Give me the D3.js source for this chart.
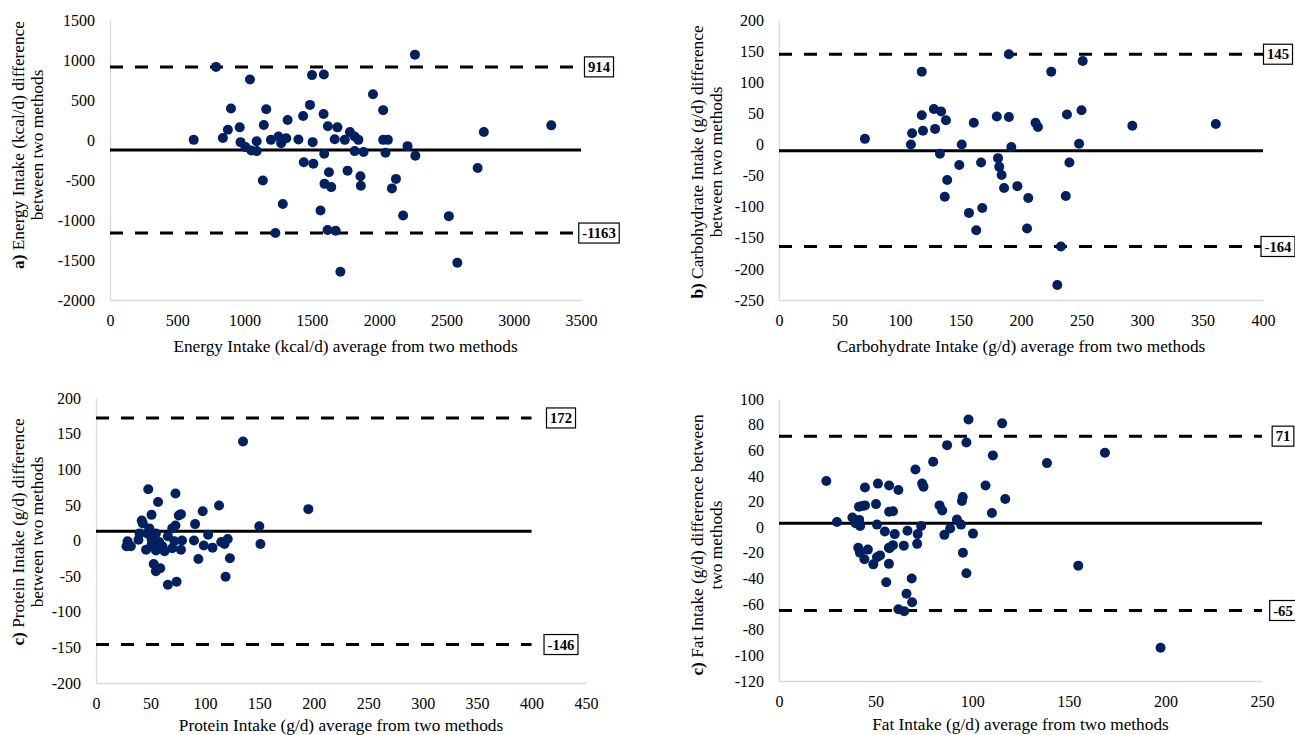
<!DOCTYPE html>
<html>
<head>
<meta charset="utf-8">
<script src="https://cdn.jsdelivr.net/npm/d3@7"></script>
<style>
body{margin:0;background:#fff;}
text{font-family:"Liberation Serif","Times New Roman",serif;fill:#000;}
</style>
</head>
<body>
<svg id="chart" width="1295" height="735"></svg>
<script>
// a) energy
var energyAvg = [622,788,1040,839,876,899,964,970,1007,1050,1090,1090,1143,1161,1136,1196,1252,1272,1310,1320,1284,1229,1400,1435,1486,1501,1589,1506,1440,1511,1587,1592,1619,1670,1690,1627,1594,1644,1564,1617,1677,1712,1745,1765,1783,1818,1846,1818,1884,1861,1864,1954,2030,2030,2065,2047,2125,2095,2178,2211,2266,2269,2518,2581,2732,2778,3279];
var energyDiff = [2,914,757,26,129,394,158,-27,-89,-131,-139,-15,187,385,-506,2,43,-40,22,249,-799,-1163,6,299,439,811,819,-27,-279,-296,324,-172,171,10,158,-403,-548,-589,-882,-1126,-1134,-1646,2,-383,101,43,2,-139,-151,-453,-572,571,373,2,2,-160,-486,-605,-944,-77,1067,-197,-952,-1534,-349,101,183];
var energyLimits = [914, -1163];
var energyBias = -124;
var energyXTicks = [0,500,1000,1500,2000,2500,3000,3500];
var energyYTicks = [-2000,-1500,-1000,-500,0,500,1000,1500];

// b) carbohydrate
var carbAvg = [71,109,110,118,118,119,128,134,129,138,133,139,137,151,149,161,157,163,167,168,180,190,190,192,181,182,184,186,197,206,205,212,214,225,233,230,237,238,240,248,250,251,292,361];
var carbDiff = [9,0,18,117,47,22,57,53,25,39,-15,-57,-84,0,-33,35,-110,-138,-29,-102,45,145,44,-4,-22,-36,-49,-70,-67,-86,-135,35,28,117,-164,-226,-83,48,-29,1,55,134,30,33];
var carbLimits = [145, -164];
var carbBias = -10;
var carbXTicks = [0,50,100,150,200,250,300,350,400];
var carbYTicks = [-250,-200,-150,-100,-50,0,50,100,150,200];

// c) protein
var proteinAvg = [135,195,150,151,48,73,57,113,98,51,76,78,42,43,91,73,70,49,40,47,55,66,103,39,51,58,29,28,32,46,55,63,70,78,79,72,90,99,107,115,118,121,123,94,119,53,59,55,66,74,61,51];
var proteinDiff = [139,44,20,-5,72,66,54,49,41,36,35,37,28,24,23,21,17,17,10,10,10,6,8,1,2,-2,-1,-8,-8,-13,-14,-15,-11,-13,0,-1,0,-7,-10,-2,-5,2,-25,-26,-51,-33,-39,-43,-62,-58,-8,-6];
var proteinLimits = [172, -146];
var proteinBias = 13;
var proteinXTicks = [0,50,100,150,200,250,300,350,400,450];
var proteinYTicks = [-200,-150,-100,-50,0,50,100,150,200];

// d) fat
var fatAvg = [24.5,30,38,39.6,41.5,42,41.4,44.5,44.5,50.2,51.2,50.7,57,61.8,57,59,54.8,59.9,66.5,71.8,73.6,71.5,70.6,74.1,74.8,79.8,87,83.1,84.5,85.6,88.6,92.1,94.2,95.1,94.7,98.1,97,95.2,97,100.4,106.9,110.7,110.2,115.5,117.1,138.7,154.9,168.7,197.5,41,41.9,46,44.2,48.8,50.7,52.3,56.9,59,56.9,57.2,64.6,55.5,68.7,66,68.9,61.8,64.8,43];
var fatDiff = [36,4,7.5,3,5.7,1,16,17,31,18,34,2,32.5,29,12,12.4,-3.3,-5.4,-2.8,-5.4,1,-13,45,34,31.5,51,64,17,13,-6,-1,6,2,23.5,20.4,84,66,-20,-36,-5,32.5,56,11,81,22,50,-30,58,-94,-16,-20,-17.5,-25,-29,-23.5,-22,-16,-14,-28.6,-16.5,-14.4,-43,-40,-52,-58.6,-64,-65.5,16.5];
var fatLimits = [71, -65];
var fatBias = 3;
var fatXTicks = [0,50,100,150,200,250];
var fatYTicks = [-120,-100,-80,-60,-40,-20,0,20,40,60,80,100];

var dotColor = "#002060";
var svg = d3.select("#chart");

var panels = [
  {avg: energyAvg, diff: energyDiff, limits: energyLimits, bias: energyBias, xTicks: energyXTicks, yTicks: energyYTicks,
   left: 110, right: 581, top: 20, bottom: 300, lineEnd: 3500, labelX: 599,
   tag: "a)", yTitle1: " Energy Intake (kcal/d) difference", yTitle2: "between two methods", tx1: 18, tx2: 37, ty: 145,
   xTitle: "Energy Intake (kcal/d) average from two methods", xTitleY: 352},
  {avg: carbAvg, diff: carbDiff, limits: carbLimits, bias: carbBias, xTicks: carbXTicks, yTicks: carbYTicks,
   left: 779, right: 1263, top: 20, bottom: 300, lineEnd: 400, labelX: 1278,
   tag: "b)", yTitle1: " Carbohydrate Intake (g/d) difference", yTitle2: "between two methods", tx1: 697, tx2: 716, ty: 162,
   xTitle: "Carbohydrate Intake (g/d) average from two methods", xTitleY: 352},
  {avg: proteinAvg, diff: proteinDiff, limits: proteinLimits, bias: proteinBias, xTicks: proteinXTicks, yTicks: proteinYTicks,
   left: 96, right: 586, top: 398, bottom: 683, lineEnd: 400, labelX: 561,
   tag: "c)", yTitle1: " Protein Intake (g/d) difference", yTitle2: "between two methods", tx1: 18, tx2: 37, ty: 532,
   xTitle: "Protein Intake (g/d) average from two methods", xTitleY: 731},
  {avg: fatAvg, diff: fatDiff, limits: fatLimits, bias: fatBias, xTicks: fatXTicks, yTicks: fatYTicks,
   left: 779, right: 1262, top: 399, bottom: 681, lineEnd: 250, labelX: 1283,
   tag: "c)", yTitle1: " Fat Intake (g/d) difference between", yTitle2: "two methods", tx1: 697, tx2: 716, ty: 545,
   xTitle: "Fat Intake (g/d) average from two methods", xTitleY: 730}
];

panels.forEach(drawPanel);

function drawPanel(p) {
  var x = d3.scaleLinear().domain([p.xTicks[0], p.xTicks[p.xTicks.length - 1]]).range([p.left, p.right]);
  var y = d3.scaleLinear().domain([p.yTicks[0], p.yTicks[p.yTicks.length - 1]]).range([p.bottom, p.top]);
  var g = svg.append("g");

  var xa = g.append("g")
    .attr("transform", "translate(0," + p.bottom + ")")
    .call(d3.axisBottom(x).tickValues(p.xTicks).tickSize(0).tickPadding(15).tickFormat(d => String(d)));
  var ya = g.append("g")
    .attr("transform", "translate(" + p.left + ",0)")
    .call(d3.axisLeft(y).tickValues(p.yTicks).tickSize(0).tickPadding(15).tickFormat(d => String(d)));
  [xa, ya].forEach(function (a) {
    a.attr("font-family", null).attr("font-size", null);
    a.select(".domain").attr("stroke", "#d9d9d9").attr("stroke-width", 1.3);
    a.selectAll("text").style("font-size", "16px").attr("fill", "#000");
  });

  // limits of agreement
  g.selectAll(".limit")
    .data(p.limits)
    .enter().append("line")
    .attr("class", "limit")
    .attr("x1", x(0)).attr("x2", x(p.lineEnd))
    .attr("y1", d => y(d)).attr("y2", d => y(d))
    .attr("stroke", "#000")
    .attr("stroke-width", 3)
    .attr("stroke-dasharray", "13,12");
  // mean difference
  g.append("line")
    .attr("x1", x(0)).attr("x2", x(p.lineEnd))
    .attr("y1", y(p.bias)).attr("y2", y(p.bias))
    .attr("stroke", "#000")
    .attr("stroke-width", 3);

  g.selectAll(".dot")
    .data(p.avg)
    .enter().append("circle")
    .attr("class", "dot")
    .attr("cx", d => x(d))
    .attr("cy", (d, i) => y(p.diff[i]))
    .attr("r", 5)
    .attr("fill", dotColor);

  var lab = g.selectAll(".lab")
    .data(p.limits)
    .enter().append("g")
    .attr("class", "lab")
    .attr("transform", d => "translate(" + p.labelX + "," + y(d) + ")");
  lab.append("rect").attr("fill", "#fff").attr("stroke", "#000").attr("stroke-width", 1.2);
  var txt = lab.append("text")
    .attr("text-anchor", "middle")
    .attr("dy", "0.35em")
    .style("font-size", "14.7px")
    .style("font-weight", "bold")
    .text(d => d);
  txt.each(function () {
    var w = this.getComputedTextLength() + 7;
    d3.select(this.previousSibling).attr("x", -w / 2).attr("y", -10).attr("width", w).attr("height", 20);
  });

  // axis titles
  var t1 = g.append("text")
    .attr("transform", "translate(" + p.tx1 + "," + p.ty + ") rotate(-90)")
    .attr("text-anchor", "middle")
    .attr("dominant-baseline", "central")
    .style("font-size", "17.3px");
  t1.append("tspan").style("font-weight", "bold").text(p.tag);
  t1.append("tspan").text(p.yTitle1);
  g.append("text")
    .attr("transform", "translate(" + p.tx2 + "," + p.ty + ") rotate(-90)")
    .attr("text-anchor", "middle")
    .attr("dominant-baseline", "central")
    .style("font-size", "17.3px")
    .text(p.yTitle2);
  g.append("text")
    .attr("x", (p.left + p.right) / 2)
    .attr("y", p.xTitleY)
    .attr("text-anchor", "middle")
    .style("font-size", "17.3px")
    .text(p.xTitle);
}
</script>
</body>
</html>
